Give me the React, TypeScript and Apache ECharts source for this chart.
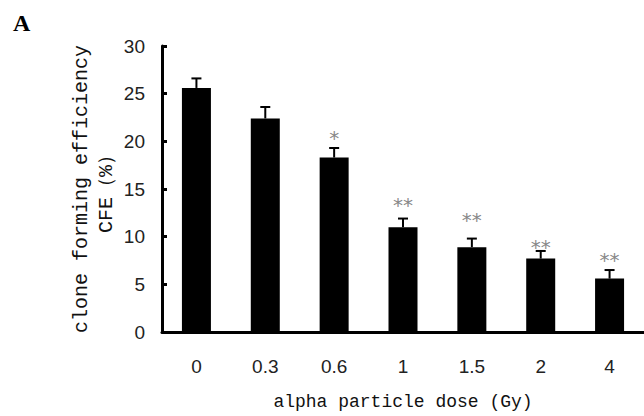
import React, { useEffect, useRef } from "react";
import * as echarts from "echarts";

const categories = ["0", "0.3", "0.6", "1", "1.5", "2", "4"];
const means = [25.6, 22.4, 18.3, 11.0, 8.9, 7.7, 5.6];
const errTops = [26.6, 23.6, 19.3, 11.9, 9.8, 8.5, 6.5];
const starMarks = ["", "", "*", "**", "**", "**", "**"];
const starLevels = [0, 0, 20.8, 13.7, 12.2, 9.3, 8.0];
const yTicks = { min: 0, max: 30, interval: 5 };

export default function App() {
  const ref = useRef<HTMLDivElement>(null);
  useEffect(() => {
    document.body.style.margin = "0";
    if (!ref.current) return;
    const chart = echarts.init(ref.current, null, { renderer: "svg" });
    const errData = categories.map((_, i) => [i, means[i], errTops[i], starLevels[i]]);
    chart.setOption({
      animation: false,
      backgroundColor: "#fff",
      graphic: [
        {
          type: "text",
          left: 13,
          top: 11,
          style: { text: "A", font: "bold 24px 'Liberation Serif'", fill: "#000" },
        },
      ],
      grid: { left: 162, right: 0, top: 46, bottom: 79, containLabel: false },
      xAxis: {
        type: "category",
        data: categories,
        name: "alpha particle dose (Gy)",
        nameLocation: "middle",
        nameGap: 61,
        nameMoveOverlap: false,
        nameTextStyle: { fontFamily: "Liberation Mono", fontSize: 18, color: "#111" },
        axisLine: { lineStyle: { color: "#000", width: 3 } },
        axisTick: { inside: true, length: 5, lineStyle: { color: "#000", width: 3 } },
        axisLabel: { margin: 25, fontFamily: "Liberation Sans", fontSize: 19, color: "#222" },
        splitLine: { show: false },
      },
      yAxis: {
        type: "value",
        min: yTicks.min,
        max: yTicks.max,
        interval: yTicks.interval,
        name: "clone forming efficiency\nCFE（%）",
        nameLocation: "middle",
        nameRotate: 90,
        nameGap: 43,
        nameMoveOverlap: false,
        nameTextStyle: { fontFamily: "Liberation Mono", fontSize: 20, color: "#111", lineHeight: 25 },
        axisLine: { show: true, lineStyle: { color: "#000", width: 3 } },
        axisTick: { show: true, inside: true, length: 5, lineStyle: { color: "#000", width: 3 } },
        axisLabel: { margin: 17, fontFamily: "Liberation Sans", fontSize: 19, color: "#222" },
        splitLine: { show: false },
      },
      series: [
        {
          type: "bar",
          data: means,
          barWidth: 29,
          itemStyle: { color: "#000" },
          z: 2,
        },
        {
          type: "custom",
          data: errData,
          z: 3,
          renderItem: (params: any, api: any) => {
            const i = api.value(0);
            const top = api.coord([i, api.value(2)]);
            const base = api.coord([i, api.value(1)]);
            const star = api.coord([i, api.value(3)]);
            const mark = starMarks[params.dataIndex];
            const children: any[] = [
              {
                type: "line",
                shape: { x1: base[0], y1: base[1], x2: top[0], y2: top[1] },
                style: { stroke: "#000", lineWidth: 2 },
              },
              {
                type: "line",
                shape: { x1: top[0] - 5, y1: top[1], x2: top[0] + 5, y2: top[1] },
                style: { stroke: "#000", lineWidth: 2 },
              },
            ];
            if (mark) {
              children.push({
                type: "text",
                x: star[0],
                y: star[1] + 4,
                style: {
                  text: mark,
                  fill: "#888",
                  font: "20px 'DejaVu Sans'",
                  align: "center",
                  verticalAlign: "middle",
                },
              });
            }
            return { type: "group", children };
          },
        },
      ],
    });
    return () => chart.dispose();
  }, []);
  return (
    <div
      ref={ref}
      style={{ position: "fixed", left: 0, top: 0, width: 644, height: 416, overflow: "hidden" }}
    />
  );
}
